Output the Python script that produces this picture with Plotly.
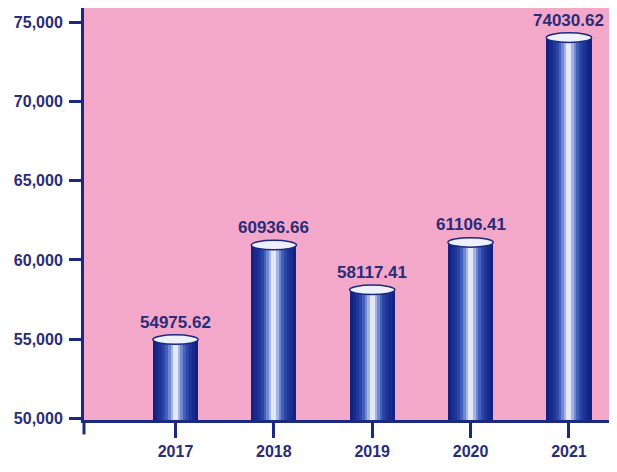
import plotly.graph_objects as go

years = ["2017", "2018", "2019", "2020", "2021"]
values = [54975.62, 60936.66, 58117.41, 61106.41, 74030.62]
y_ticks = [50000, 55000, 60000, 65000, 70000, 75000]
y_tick_text = ["50,000", "55,000", "60,000", "65,000", "70,000", "75,000"]

NAVY = "#1b2a80"
TEXT = "#2a2c78"
PINK = "#f4a8c9"
BAR_W = 0.46

xs = list(range(len(years)))

# layered bars to imitate cylinder shading
layers = [
    (1.00, "#13227f"),
    (0.86, "#182a8c"),
    (0.72, "#20359a"),
    (0.58, "#2c45a8"),
    (0.45, "#4461b9"),
    (0.33, "#6f88cf"),
    (0.22, "#a5b4e4"),
    (0.11, "#e4e9fa"),
]

fig = go.Figure()
for frac, col in layers:
    fig.add_trace(go.Bar(
        x=xs, y=values, width=BAR_W * frac,
        marker=dict(color=col, line=dict(width=0)),
        showlegend=False, hoverinfo="skip",
    ))

shapes = []
annotations = []
ell_h = 300
for x, v in zip(xs, values):
    shapes.append(dict(
        type="circle", xref="x", yref="y",
        x0=x - BAR_W / 2, x1=x + BAR_W / 2,
        y0=v - ell_h, y1=v + ell_h,
        fillcolor="#eef0fb", line=dict(color=NAVY, width=1.5), layer="above",
    ))
    annotations.append(dict(
        x=x, y=v, xref="x", yref="y", text=f"<b>{v:.2f}</b>",
        showarrow=False, yshift=6, yanchor="bottom",
        font=dict(family="Arial, Liberation Sans, sans-serif", size=17, color=TEXT),
    ))

# y-axis line extension below x-axis
shapes.append(dict(type="line", xref="paper", yref="paper",
                   x0=0, x1=0, y0=0, y1=-0.035,
                   line=dict(color=NAVY, width=3)))

fig.update_layout(
    width=617, height=472,
    margin=dict(l=76, r=0, t=0, b=60),
    paper_bgcolor="white",
    plot_bgcolor=PINK,
    barmode="overlay",
    bargap=0,
    shapes=shapes,
    annotations=annotations,
    xaxis=dict(
        range=[-0.93, 4.57],
        tickvals=xs, ticktext=[f"<b>{y}</b>" for y in years],
        ticks="outside", ticklen=15, tickwidth=3, tickcolor=NAVY,
        showline=True, linecolor=NAVY, linewidth=3,
        showgrid=False, zeroline=False,
        tickfont=dict(family="Arial, Liberation Sans, sans-serif", size=16, color=TEXT),
    ),
    yaxis=dict(
        range=[49900, 75900],
        tickvals=y_ticks, ticktext=[f"<b>{t}</b>" for t in y_tick_text],
        ticks="outside", ticklen=12, tickwidth=3, tickcolor=NAVY,
        showline=True, linecolor=NAVY, linewidth=3,
        showgrid=False, zeroline=False,
        ticklabelstandoff=3,
        tickfont=dict(family="Arial, Liberation Sans, sans-serif", size=16, color=TEXT),
    ),
)

fig.write_html("out.html")
